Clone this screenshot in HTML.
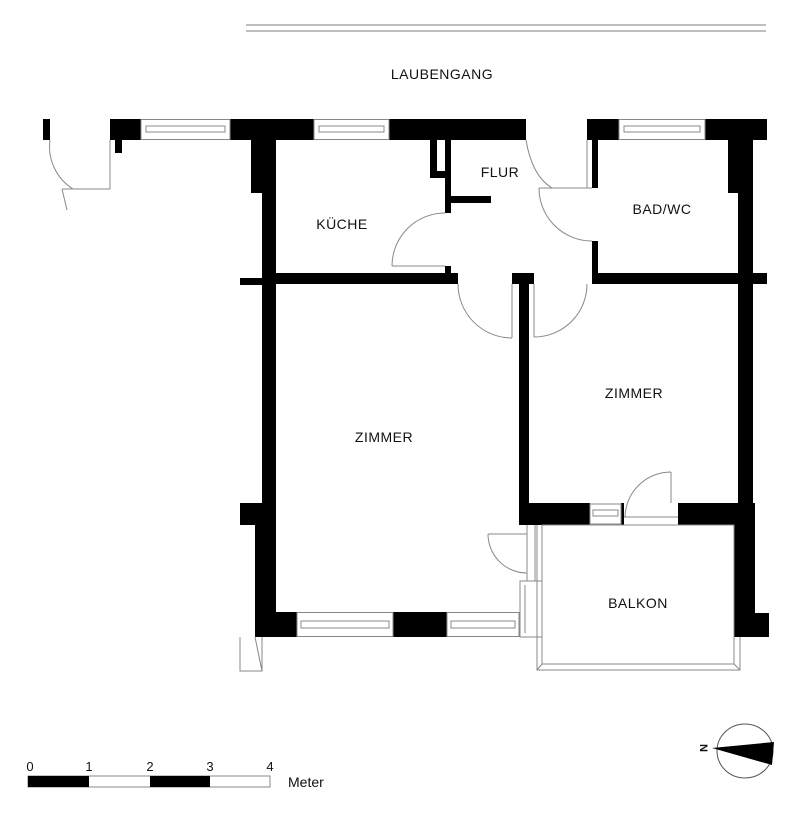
<!DOCTYPE html>
<html><head><meta charset="utf-8"><style>
html,body{margin:0;padding:0;background:#fff;}
svg{display:block}
text{font-family:"Liberation Sans",sans-serif;fill:#111}
</style></head><body>
<svg width="800" height="814" viewBox="0 0 800 814" xmlns="http://www.w3.org/2000/svg">
<rect width="800" height="814" fill="#fff"/>
<line x1="246" y1="25" x2="766" y2="25" stroke="#999" stroke-width="1.2"/>
<line x1="246" y1="31" x2="766" y2="31" stroke="#999" stroke-width="1.2"/>
<text x="442" y="79" font-size="14" text-anchor="middle" letter-spacing="0.5">LAUBENGANG</text>

<g fill="#000">
<rect x="43" y="119" width="7" height="21"/>
<rect x="110" y="119" width="31" height="21"/>
<rect x="115" y="140" width="7" height="13"/>
<rect x="230" y="119" width="84" height="21"/>
<rect x="251" y="140" width="25" height="53"/>
<rect x="262" y="140" width="14" height="497"/>
<rect x="389" y="119" width="137" height="21"/>
<rect x="587" y="119" width="32" height="21"/>
<rect x="705" y="119" width="62" height="21"/>
<rect x="728" y="140" width="25" height="53"/>
<rect x="738" y="140" width="15" height="385"/>
<rect x="276" y="273" width="182" height="11"/>
<rect x="240" y="278" width="22" height="7"/>
<rect x="512" y="273" width="22" height="11"/>
<rect x="519" y="273" width="10" height="252"/>
<rect x="592" y="273" width="175" height="11"/>
<rect x="430" y="140" width="7" height="38"/>
<rect x="430" y="171" width="21" height="7"/>
<rect x="445" y="140" width="6" height="73"/>
<rect x="451" y="196" width="40" height="7"/>
<rect x="445" y="266" width="6" height="7"/>
<rect x="592" y="140" width="6" height="48"/>
<rect x="592" y="241" width="6" height="32"/>
<rect x="521" y="503" width="69" height="22"/>
<rect x="621" y="503" width="3" height="22"/>
<rect x="678" y="503" width="63" height="22"/>
<rect x="734" y="503" width="21" height="134"/>
<rect x="734" y="613" width="35" height="24"/>
<rect x="240" y="503" width="22" height="22"/>
<rect x="255" y="525" width="21" height="112"/>
<rect x="255" y="612" width="42" height="25"/>
<rect x="393" y="612" width="54" height="25"/>
</g>

<g fill="none" stroke="#888" stroke-width="1">
<rect x="141" y="119.5" width="89" height="20"/>
<rect x="146" y="126" width="79" height="6"/>
<rect x="314" y="119.5" width="75" height="20"/>
<rect x="319" y="126" width="65" height="6"/>
<rect x="619" y="119.5" width="86" height="20"/>
<rect x="624" y="126" width="76" height="6"/>
<rect x="297" y="612.5" width="96" height="24"/>
<rect x="301" y="621" width="88" height="7"/>
<rect x="447" y="612.5" width="72" height="24"/>
<rect x="451" y="621" width="64" height="7"/>
<rect x="590" y="504" width="31" height="20"/>
<rect x="593" y="510" width="25" height="6"/>
<rect x="542" y="525" width="192" height="139"/>
<path d="M537 525 V670 H740 V637"/>
<line x1="542" y1="664" x2="537" y2="670"/>
<line x1="734" y1="664" x2="740" y2="670"/>
<line x1="527" y1="525" x2="527" y2="581"/>
<line x1="535" y1="525" x2="535" y2="581"/>
<line x1="488" y1="534" x2="527" y2="534"/>
<path d="M488 534 A39 39 0 0 0 527 573"/>
<rect x="520" y="581" width="22" height="56"/>
<line x1="525" y1="585" x2="525" y2="633"/>
<line x1="671" y1="472" x2="671" y2="503"/>
<path d="M671 472 A46 46 0 0 0 625 517"/>
<line x1="624" y1="517" x2="678" y2="517"/>
<path d="M240 637 V671 H262 V637"/>
<line x1="255" y1="637" x2="262" y2="671"/>
<path d="M50 140 A50 50 0 0 0 73 189"/>
<line x1="62" y1="189" x2="110" y2="189"/>
<line x1="110" y1="140" x2="110" y2="189"/>
<line x1="62" y1="189" x2="67" y2="210"/>
<line x1="392" y1="266" x2="445" y2="266"/>
<path d="M392 266 A53 53 0 0 1 445 213"/>
<path d="M526 140 Q532 176 552 188"/>
<line x1="587" y1="140" x2="587" y2="188"/>
<line x1="539" y1="188" x2="592" y2="188"/>
<path d="M539 188 A53 53 0 0 0 592 241"/>
<line x1="512" y1="284" x2="512" y2="338"/>
<path d="M458 284 A54 54 0 0 0 512 338"/>
<line x1="534" y1="284" x2="534" y2="337"/>
<path d="M587 284 A53 53 0 0 1 534 337"/>
</g>

<g font-size="14" text-anchor="middle" letter-spacing="0.5">
<text x="342" y="229">KÜCHE</text>
<text x="500" y="177">FLUR</text>
<text x="662" y="214">BAD/WC</text>
<text x="634" y="398">ZIMMER</text>
<text x="384" y="442">ZIMMER</text>
<text x="638" y="608">BALKON</text>
</g>

<rect x="28" y="776" width="242" height="11" fill="#fff" stroke="#888" stroke-width="1"/>
<rect x="28" y="776" width="61" height="11" fill="#000"/>
<rect x="150" y="776" width="60" height="11" fill="#000"/>
<g font-size="13" text-anchor="middle">
<text x="30" y="771">0</text><text x="89" y="771">1</text><text x="150" y="771">2</text><text x="210" y="771">3</text><text x="270" y="771">4</text>
</g>
<text x="288" y="787" font-size="14">Meter</text>

<ellipse cx="745" cy="751" rx="28" ry="27" fill="none" stroke="#555" stroke-width="1"/>
<polygon points="712,748 774,742 772,765" fill="#000"/>
<text x="704" y="752" font-size="11" font-weight="bold" text-anchor="middle" transform="rotate(90 704 748)">N</text>
</svg>
</body></html>
